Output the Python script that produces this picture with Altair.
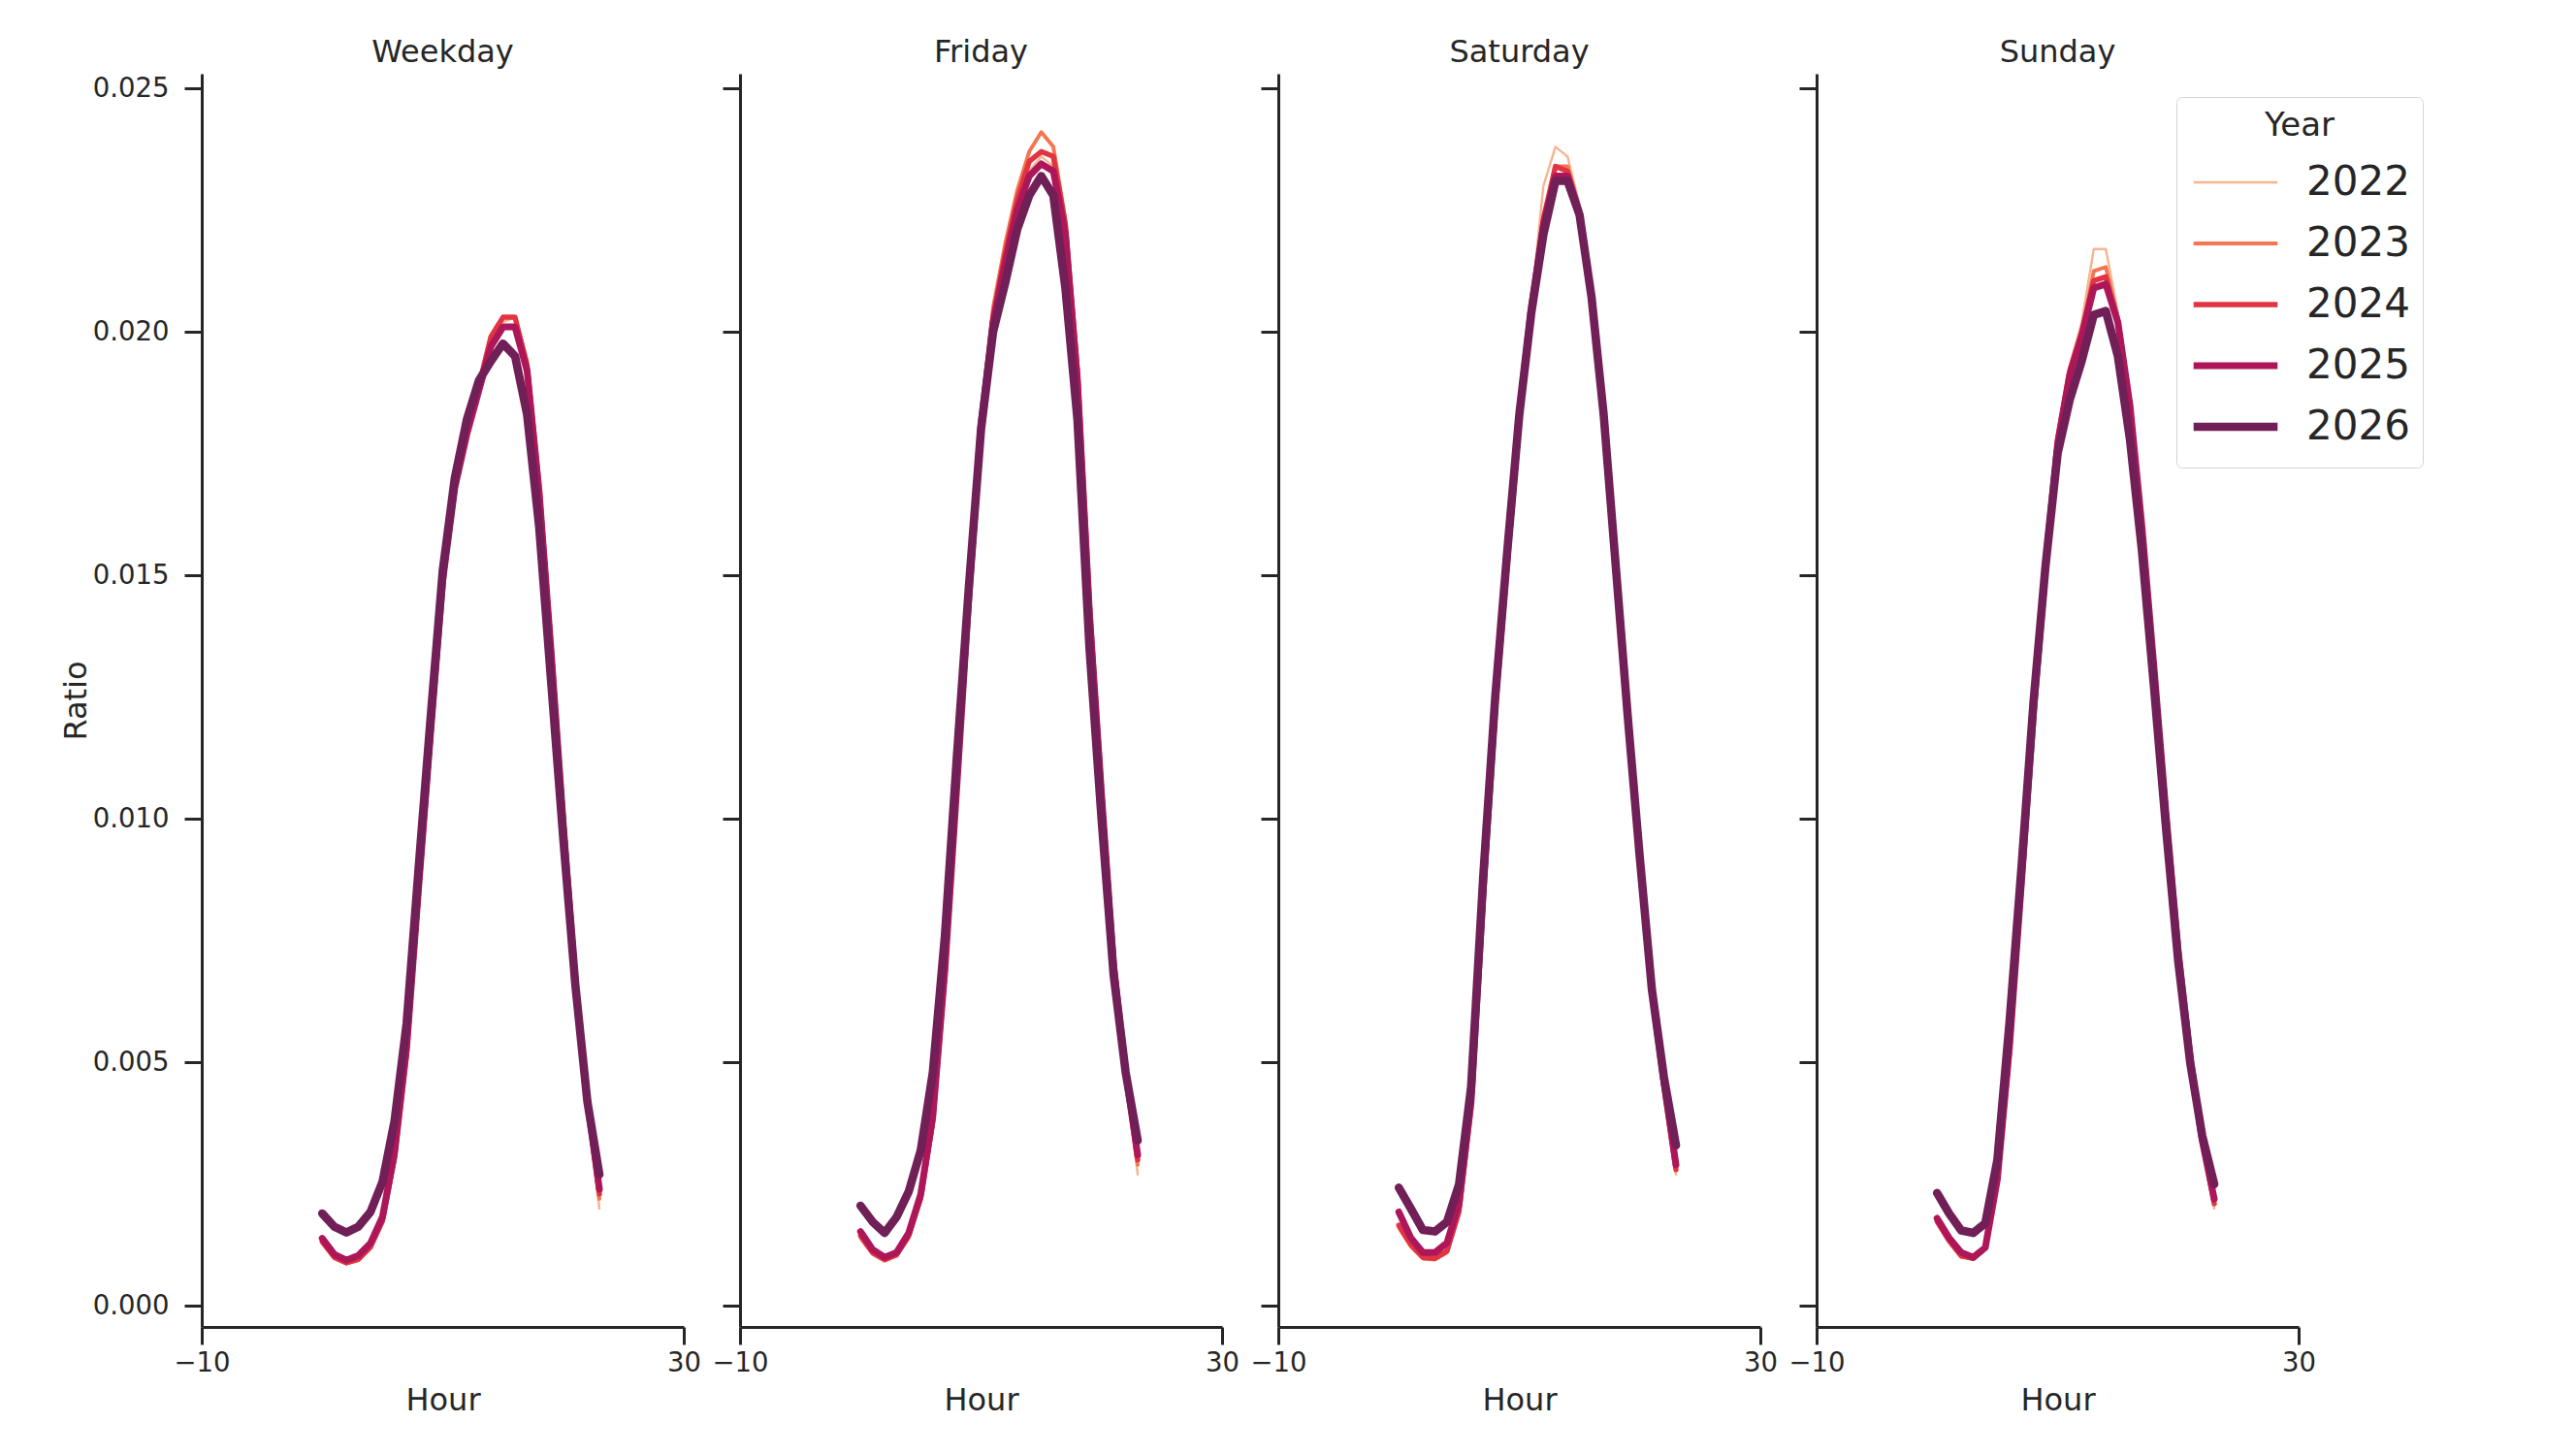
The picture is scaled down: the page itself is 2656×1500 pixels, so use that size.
import altair as alt
import pandas as pd

hours = list(range(24))
years = [2022, 2023, 2024, 2025, 2026]
day_types = ["Weekday", "Friday", "Saturday", "Sunday"]
palette = ["#f6b48f", "#f37651", "#e13342", "#ad1759", "#701f57"]
line_widths = [2.4, 3.9, 5.4, 7.0, 8.6]
y_ticks = [0.0, 0.005, 0.010, 0.015, 0.020, 0.025]
x_ticks = [-10, 30]

# ratio per hour
weekday_2022 = [0.00128, 0.00098, 0.00086, 0.00093, 0.00118, 0.00170, 0.00295, 0.0051, 0.0084, 0.0117, 0.0149, 0.0168,
                0.0179, 0.0189, 0.0199, 0.0202, 0.0203, 0.0194, 0.0169, 0.0136, 0.0100, 0.0066, 0.0040, 0.0020]
weekday_2023 = [0.00130, 0.00099, 0.00087, 0.00094, 0.00119, 0.00172, 0.00300, 0.0052, 0.0085, 0.0117, 0.0149, 0.0168,
                0.0179, 0.0189, 0.0199, 0.0203, 0.0203, 0.0194, 0.0169, 0.0136, 0.0100, 0.0067, 0.0041, 0.0022]
weekday_2024 = [0.00132, 0.00100, 0.00089, 0.00096, 0.00121, 0.00175, 0.00305, 0.0052, 0.0085, 0.0117, 0.0149, 0.0168,
                0.0179, 0.0189, 0.0199, 0.0203, 0.0203, 0.0193, 0.0168, 0.0135, 0.0100, 0.0067, 0.0042, 0.0023]
weekday_2025 = [0.00139, 0.00106, 0.00094, 0.00104, 0.00129, 0.00183, 0.00315, 0.0053, 0.0086, 0.0118, 0.0149, 0.0168,
                0.0179, 0.0188, 0.0197, 0.0201, 0.0201, 0.0192, 0.0167, 0.0134, 0.0099, 0.0066, 0.0042, 0.0024]
weekday_2026 = [0.00190, 0.00163, 0.00151, 0.00163, 0.00193, 0.00255, 0.00380, 0.0058, 0.0090, 0.0121, 0.0151, 0.0170,
                0.0182, 0.0190, 0.0194, 0.01976, 0.0195, 0.0183, 0.0160, 0.0128, 0.0096, 0.0066, 0.0042, 0.0027]

friday_2022 = [0.00138, 0.00106, 0.00092, 0.00102, 0.00138, 0.00215, 0.0037, 0.0067, 0.0106, 0.0145, 0.0180, 0.0202,
               0.0215, 0.0226, 0.0233, 0.0236, 0.0234, 0.0220, 0.0191, 0.0143, 0.0105, 0.0070, 0.0047, 0.0027]
friday_2023 = [0.00140, 0.00107, 0.00093, 0.00103, 0.00140, 0.00218, 0.0037, 0.0068, 0.0108, 0.0147, 0.0182, 0.0205,
               0.0218, 0.0229, 0.0237, 0.0241, 0.0238, 0.0223, 0.0193, 0.0144, 0.0106, 0.0071, 0.0048, 0.0029]
friday_2024 = [0.00145, 0.00110, 0.00096, 0.00106, 0.00145, 0.00222, 0.0038, 0.0068, 0.0107, 0.0146, 0.0181, 0.0203,
               0.0216, 0.0227, 0.0235, 0.0237, 0.0236, 0.0222, 0.0192, 0.0144, 0.0106, 0.0071, 0.0048, 0.0030]
friday_2025 = [0.00153, 0.00116, 0.00100, 0.00110, 0.00150, 0.00230, 0.0039, 0.0069, 0.0107, 0.0146, 0.0181, 0.0202,
               0.0214, 0.0225, 0.0232, 0.02345, 0.0233, 0.0220, 0.0190, 0.0142, 0.0105, 0.0070, 0.0048, 0.0031]
friday_2026 = [0.00206, 0.00173, 0.00150, 0.00183, 0.00235, 0.00320, 0.0048, 0.0076, 0.0113, 0.0148, 0.0180, 0.0200,
               0.0210, 0.0221, 0.0228, 0.0232, 0.0228, 0.0209, 0.0182, 0.0135, 0.0100, 0.0068, 0.0048, 0.0034]

saturday_2022 = [0.00158, 0.00120, 0.00096, 0.00094, 0.00108, 0.00185, 0.0040, 0.0083, 0.0122, 0.0153, 0.0182, 0.0206,
                 0.0230, 0.0238, 0.0236, 0.0226, 0.0208, 0.0184, 0.0153, 0.0122, 0.0092, 0.0064, 0.0044, 0.0027]
saturday_2023 = [0.00162, 0.00123, 0.00098, 0.00096, 0.00110, 0.00190, 0.0041, 0.0084, 0.0123, 0.0154, 0.0183, 0.0205,
                 0.0224, 0.0234, 0.0234, 0.0225, 0.0208, 0.0184, 0.0153, 0.0122, 0.0092, 0.0065, 0.0045, 0.0028]
saturday_2024 = [0.00166, 0.00126, 0.00100, 0.00098, 0.00113, 0.00195, 0.0041, 0.0084, 0.0123, 0.0154, 0.0183, 0.0205,
                 0.0223, 0.0234, 0.0233, 0.0225, 0.0208, 0.0184, 0.0153, 0.0122, 0.0092, 0.0065, 0.0045, 0.0028]
saturday_2025 = [0.00193, 0.00140, 0.00110, 0.00110, 0.00130, 0.00210, 0.0042, 0.0085, 0.0124, 0.0154, 0.0183, 0.0205,
                 0.0222, 0.0232, 0.0232, 0.0224, 0.0207, 0.0183, 0.0152, 0.0121, 0.0092, 0.0065, 0.0046, 0.0029]
saturday_2026 = [0.00243, 0.00200, 0.00156, 0.00153, 0.00173, 0.00250, 0.0045, 0.0088, 0.0125, 0.0155, 0.0183, 0.0204,
                 0.0220, 0.0231, 0.0231, 0.0224, 0.0207, 0.0183, 0.0152, 0.0121, 0.0092, 0.0065, 0.0047, 0.0033]

sunday_2022 = [0.00170, 0.00130, 0.00100, 0.00095, 0.00115, 0.00250, 0.0052, 0.0087, 0.0122, 0.0152, 0.0178, 0.0193,
               0.0202, 0.0217, 0.0217, 0.0204, 0.0186, 0.0161, 0.0131, 0.0102, 0.0074, 0.0052, 0.0034, 0.0020]
sunday_2023 = [0.00172, 0.00132, 0.00101, 0.00096, 0.00117, 0.00255, 0.0052, 0.0087, 0.0122, 0.0152, 0.0178, 0.0192,
               0.0200, 0.02125, 0.02133, 0.0203, 0.0186, 0.0161, 0.0131, 0.0102, 0.0074, 0.0052, 0.0034, 0.0021]
sunday_2024 = [0.00174, 0.00134, 0.00103, 0.00098, 0.00119, 0.00258, 0.0052, 0.0087, 0.0122, 0.0152, 0.0178, 0.0192,
               0.0200, 0.02105, 0.02113, 0.0202, 0.0185, 0.0160, 0.0131, 0.0101, 0.0073, 0.0051, 0.0034, 0.0021]
sunday_2025 = [0.00180, 0.00140, 0.00110, 0.00100, 0.00120, 0.00260, 0.0053, 0.0087, 0.0122, 0.0152, 0.0177, 0.0191,
               0.0199, 0.0209, 0.02098, 0.0202, 0.0185, 0.0160, 0.0131, 0.0101, 0.0073, 0.0051, 0.0034, 0.0022]
sunday_2026 = [0.00232, 0.00190, 0.00155, 0.00150, 0.00170, 0.00300, 0.0058, 0.0090, 0.0124, 0.0152, 0.0175, 0.0186,
               0.0194, 0.02035, 0.02043, 0.0195, 0.0178, 0.0155, 0.0127, 0.0098, 0.0071, 0.0050, 0.0035, 0.0025]

series = {
    "Weekday": [weekday_2022, weekday_2023, weekday_2024, weekday_2025, weekday_2026],
    "Friday": [friday_2022, friday_2023, friday_2024, friday_2025, friday_2026],
    "Saturday": [saturday_2022, saturday_2023, saturday_2024, saturday_2025, saturday_2026],
    "Sunday": [sunday_2022, sunday_2023, sunday_2024, sunday_2025, sunday_2026],
}

rows = []
for day in day_types:
    for year, vals in zip(years, series[day]):
        for h, v in zip(hours, vals):
            rows.append({"Day": day, "Year": year, "Hour": h, "Ratio": v})
df = pd.DataFrame(rows)

INK = "#262626"
FONT = "DejaVu Sans"

legend = alt.Legend(
    title="Year",
    orient="none",
    legendX=2036,
    legendY=24,
    symbolType="stroke",
    symbolSize=7500,
    clipHeight=58,
    labelFontSize=42,
    titleFontSize=34,
    titleFontWeight="normal",
    titleAnchor="middle",
    titlePadding=12,
    labelOffset=25,
    rowPadding=5,
    padding=13,
    cornerRadius=6,
    strokeColor="#d4d4d4",
    fillColor="white",
)


def panel(day, first):
    y_axis = dict(values=y_ticks, format=".3f", labels=first, titlePadding=0)
    y_axis["title"] = "Ratio" if first else ""
    return (
        alt.Chart(df[df["Day"] == day])
        .mark_line(strokeCap="round", strokeJoin="round")
        .encode(
            x=alt.X("Hour:Q", scale=alt.Scale(domain=[-10, 30], nice=False),
                    axis=alt.Axis(values=x_ticks, format="d", title="Hour", labelFlush=False, labelPadding=5)),
            y=alt.Y("Ratio:Q", scale=alt.Scale(domain=[-0.00043, 0.0253], nice=False, zero=False),
                    axis=alt.Axis(**y_axis)),
            color=alt.Color("Year:O", scale=alt.Scale(domain=years, range=palette), legend=legend),
            strokeWidth=alt.StrokeWidth("Year:O", scale=alt.Scale(type="ordinal", domain=years, range=line_widths),
                                        legend=legend),
            detail="Year:O",
            order=alt.Order("Year:O"),
        )
        .properties(
            width=497,
            height=1292,
            title=alt.TitleParams(day, fontSize=32, fontWeight="normal", font=FONT, color=INK, offset=5),
        )
    )


chart = (
    alt.hconcat(*[panel(d, i == 0) for i, d in enumerate(day_types)], spacing=58, bounds="flush")
    .properties(padding={"left": 54, "top": 30, "right": 5, "bottom": 5})
    .configure_view(stroke=None)
    .configure_axis(
        domainColor=INK, domainWidth=3, tickColor=INK, tickWidth=3, tickSize=18,
        labelFontSize=27.5, titleFontSize=32, labelColor=INK, titleColor=INK,
        labelFont=FONT, titleFont=FONT, titleFontWeight="normal", grid=False,
        labelPadding=16, titlePadding=10,
    )
    .configure_legend(labelFont=FONT, titleFont=FONT, labelColor=INK, titleColor=INK)
)

chart.save("out.html", embed_options={"renderer": "svg", "actions": False})
